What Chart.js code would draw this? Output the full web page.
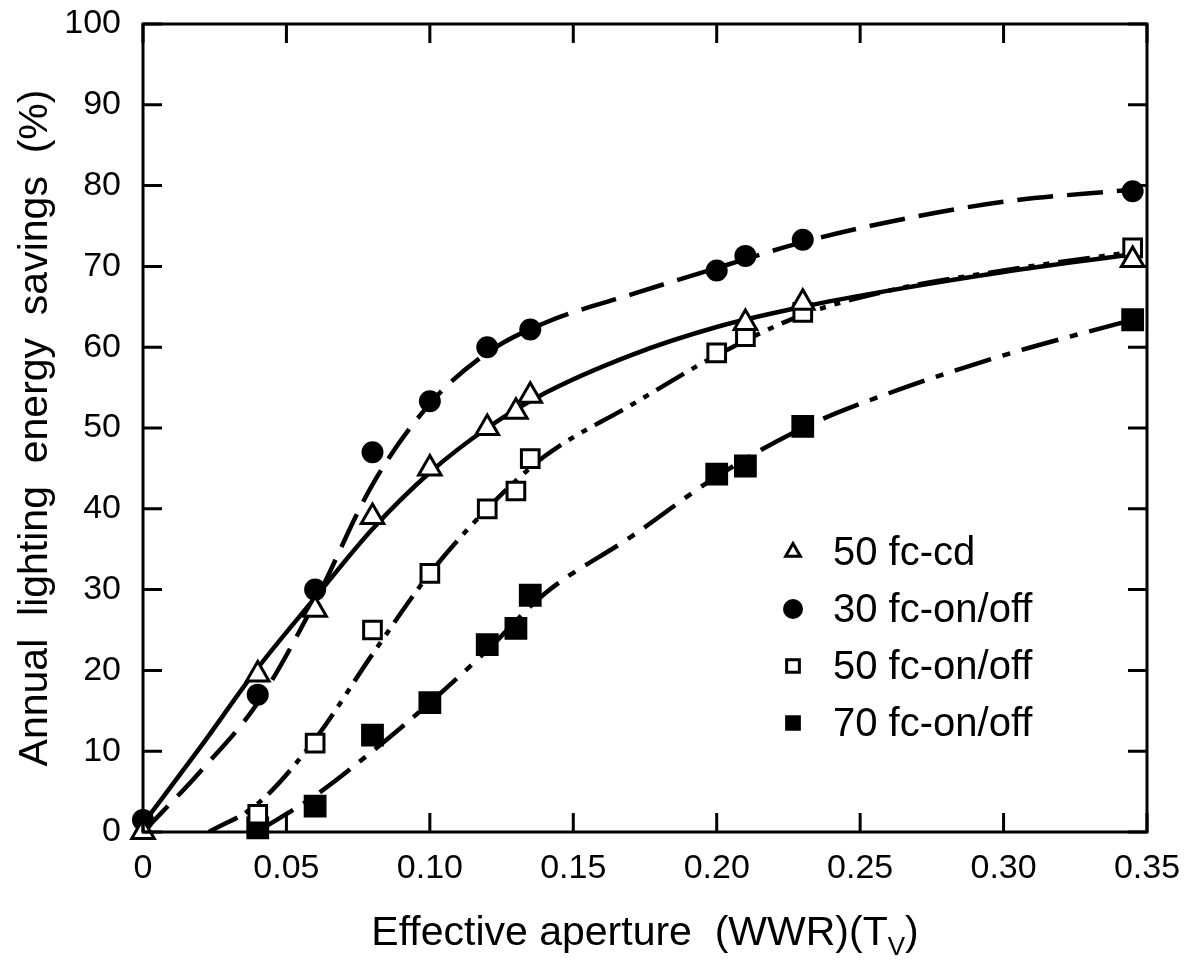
<!DOCTYPE html>
<html>
<head>
<meta charset="utf-8">
<script src="https://cdn.jsdelivr.net/npm/chart.js@4/dist/chart.umd.min.js"></script>
<style>
  html, body { margin: 0; padding: 0; background: #fff; }
  #wrap { width: 1193px; height: 967px; }
</style>
</head>
<body>
<div id="wrap"><canvas id="chart"></canvas></div>
<script>
// series labels
const seriesNames = ['50 fc-cd', '30 fc-on/off', '50 fc-on/off', '70 fc-on/off'];

const cdX = [0, 0.04, 0.06, 0.08, 0.10, 0.12, 0.13, 0.135, 0.21, 0.23, 0.345];
const cdY = [0, 19.5, 27.5, 39, 45, 50, 52, 54, 63, 65.5, 70.8];
const on30X = [0, 0.04, 0.06, 0.08, 0.10, 0.12, 0.135, 0.20, 0.21, 0.23, 0.345];
const on30Y = [1.5, 17, 30, 47, 53.3, 60, 62.2, 69.5, 71.3, 73.3, 79.3];
const on50X = [0.04, 0.06, 0.08, 0.10, 0.12, 0.13, 0.135, 0.20, 0.21, 0.23, 0.345];
const on50Y = [2.2, 11, 25, 32, 40, 42.2, 46.2, 59.3, 61.3, 64.3, 72.3];
const on70X = [0.04, 0.06, 0.08, 0.10, 0.12, 0.13, 0.135, 0.20, 0.21, 0.23, 0.345];
const on70Y = [0.5, 3.2, 12, 16, 23.2, 25.2, 29.3, 44.3, 45.3, 50.2, 63.4];

// fitted curves
const cdFitX = [0, 0.02, 0.04, 0.06, 0.08, 0.10, 0.12, 0.14, 0.17, 0.20, 0.23, 0.26, 0.30, 0.345];
const cdFitY = [1, 10.5, 20.3, 29, 37.5, 44.5, 50, 54.3, 59, 62.5, 65, 67, 69.3, 71.5];
const on30FitX = [0, 0.02, 0.04, 0.06, 0.08, 0.10, 0.12, 0.14, 0.17, 0.20, 0.23, 0.26, 0.30, 0.345];
const on30FitY = [0, 7.5, 16, 28.5, 43, 53, 59.3, 63, 66.5, 69.8, 73, 75.5, 78, 79.5];
const on50FitX = [0.023, 0.04, 0.06, 0.08, 0.10, 0.12, 0.14, 0.17, 0.20, 0.23, 0.26, 0.30, 0.345];
const on50FitY = [0, 3.5, 11.5, 22, 32, 40, 46.5, 52.8, 59, 64, 67, 69.5, 71.8];
const on70FitX = [0.041, 0.06, 0.08, 0.10, 0.12, 0.14, 0.17, 0.20, 0.23, 0.26, 0.30, 0.345];
const on70FitY = [0.3, 4.5, 10, 16, 22.5, 29.5, 36.5, 44, 50, 54.3, 59, 63.4];

// axis ticks
const xTicks = [0, 0.05, 0.10, 0.15, 0.20, 0.25, 0.30, 0.35];
const yTicks = [0, 10, 20, 30, 40, 50, 60, 70, 80, 90, 100];

const toPts = (xs, ys) => xs.map((x, i) => ({ x: x, y: ys[i] }));
const FONT = "'Liberation Sans', Arial, Helvetica, sans-serif";

function curve(xs, ys, dash) {
    return {
        data: toPts(xs, ys),
        showLine: true,
        borderColor: '#000',
        borderWidth: 4.5,
        borderDash: dash,
        borderCapStyle: 'butt',
        pointRadius: 0,
        cubicInterpolationMode: 'monotone',
        fill: false,
        order: 2
    };
}

function markers(name, xs, ys, style, filled, radius) {
    return {
        label: name,
        data: toPts(xs, ys),
        showLine: false,
        pointStyle: style,
        pointRadius: radius,
        pointBorderWidth: 3,
        pointBorderColor: '#000',
        pointBackgroundColor: filled ? '#000' : '#fff',
        clip: false,
        order: 1
    };
}

// inner tick marks + frame
const framePlugin = {
    id: 'frame',
    afterDatasetsDraw(chart) {
        const { ctx, chartArea: a, scales: { x, y } } = chart;
        ctx.save();
        ctx.strokeStyle = '#000';
        ctx.lineWidth = 3;
        ctx.strokeRect(a.left, a.top, a.right - a.left, a.bottom - a.top);
        const len = 19;
        ctx.beginPath();
        xTicks.forEach(v => {
            const px = x.getPixelForValue(v);
            ctx.moveTo(px, a.bottom); ctx.lineTo(px, a.bottom - len);
            ctx.moveTo(px, a.top); ctx.lineTo(px, a.top + len);
        });
        yTicks.forEach(v => {
            const py = y.getPixelForValue(v);
            ctx.moveTo(a.left, py); ctx.lineTo(a.left + len, py);
            ctx.moveTo(a.right, py); ctx.lineTo(a.right - len, py);
        });
        ctx.stroke();
        ctx.restore();
    }
};

// axis titles (x title needs a subscript V)
const titlePlugin = {
    id: 'titles',
    afterDraw(chart) {
        const { ctx, chartArea: a } = chart;
        ctx.save();
        ctx.fillStyle = '#000';
        ctx.textBaseline = 'middle';

        // y title
        ctx.font = '41px ' + FONT;
        ctx.textAlign = 'center';
        ctx.translate(36, (a.top + a.bottom) / 2);
        ctx.rotate(-Math.PI / 2);
        ctx.fillText('Annual  lighting  energy  savings  (%)', 0, 0);
        ctx.setTransform(1, 0, 0, 1, 0, 0);

        // x title
        const main = 'Effective aperture  (WWR)(T';
        const sub = 'V';
        const tail = ')';
        const big = '41px ' + FONT, small = '26px ' + FONT;
        ctx.font = big;
        const w1 = ctx.measureText(main).width;
        const w3 = ctx.measureText(tail).width;
        ctx.font = small;
        const w2 = ctx.measureText(sub).width;
        let cx = (a.left + a.right) / 2 - (w1 + w2 + w3) / 2;
        const cy = 934;
        ctx.textAlign = 'left';
        ctx.font = big;
        ctx.fillText(main, cx, cy);
        cx += w1;
        ctx.font = small;
        ctx.fillText(sub, cx, cy + 14);
        cx += w2;
        ctx.font = big;
        ctx.fillText(tail, cx, cy);
        ctx.restore();
    }
};

// legend inside the plot
const legendPlugin = {
    id: 'innerLegend',
    afterDraw(chart) {
        const { ctx } = chart;
        const marks = chart.data.datasets.filter(d => d.label);
        ctx.save();
        ctx.font = '40px ' + FONT;
        ctx.textBaseline = 'middle';
        ctx.textAlign = 'left';
        const x0 = 793, y0 = 552, step = 57;
        marks.forEach((d, i) => {
            const yy = y0 + i * step;
            ctx.lineWidth = 3;
            ctx.strokeStyle = '#000';
            ctx.fillStyle = d.pointBackgroundColor;
            const r = d.pointStyle === 'rect' ? 9 : 8.5;
            Chart.helpers.drawPoint(ctx, { pointStyle: d.pointStyle, radius: r, rotation: 0, borderWidth: 3 }, x0, yy);
            ctx.fillStyle = '#000';
            ctx.fillText(d.label, 833, yy + 2);
        });
        ctx.restore();
    }
};

const ctx = document.getElementById('chart').getContext('2d');
new Chart(ctx, {
    type: 'scatter',
    data: {
        datasets: [
            curve(cdFitX, cdFitY, []),
            curve(on30FitX, on30FitY, [36, 14]),
            curve(on50FitX, on50FitY, [32, 9, 6, 9, 6, 9]),
            curve(on70FitX, on70FitY, [38, 12, 8, 12]),
            markers(seriesNames[0], cdX, cdY, 'triangle', false, 13),
            markers(seriesNames[1], on30X, on30Y, 'circle', true, 9.5),
            markers(seriesNames[2], on50X, on50Y, 'rect', false, 12.5),
            markers(seriesNames[3], on70X, on70Y, 'rect', true, 14)
        ]
    },
    options: {
        responsive: true,
        maintainAspectRatio: false,
        animation: false,
        events: [],
        layout: { padding: { left: 0, right: 46, top: 24, bottom: 0 } },
        plugins: {
            legend: { display: false },
            tooltip: { enabled: false }
        },
        scales: {
            x: {
                type: 'linear',
                min: 0,
                max: 0.35,
                afterBuildTicks: s => { s.ticks = xTicks.map(v => ({ value: v })); },
                afterFit: s => { s.height = 135; },
                grid: { display: false },
                border: { display: false },
                ticks: {
                    color: '#000',
                    font: { family: FONT, size: 34 },
                    padding: 8,
                    maxRotation: 0,
                    callback: v => v === 0 ? '0' : v.toFixed(2)
                }
            },
            y: {
                type: 'linear',
                min: 0,
                max: 100,
                afterBuildTicks: s => { s.ticks = yTicks.map(v => ({ value: v })); },
                afterFit: s => { s.width = 143; },
                grid: { display: false },
                border: { display: false },
                ticks: {
                    color: '#000',
                    font: { family: FONT, size: 34, lineHeight: 0.5 },
                    padding: 14
                }
            }
        }
    },
    plugins: [framePlugin, titlePlugin, legendPlugin]
});
</script>
</body>
</html>
